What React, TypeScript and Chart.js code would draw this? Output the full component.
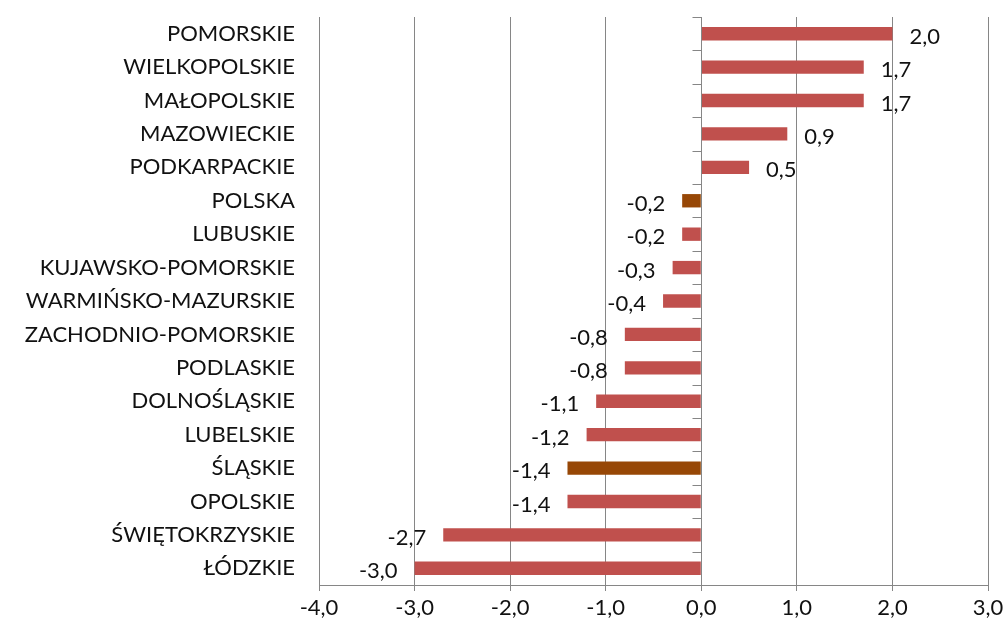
import React, { useEffect, useRef } from "react";
import { Chart, registerables } from "chart.js";

Chart.register(...registerables);

const categories = [
  "POMORSKIE",
  "WIELKOPOLSKIE",
  "MAŁOPOLSKIE",
  "MAZOWIECKIE",
  "PODKARPACKIE",
  "POLSKA",
  "LUBUSKIE",
  "KUJAWSKO-POMORSKIE",
  "WARMIŃSKO-MAZURSKIE",
  "ZACHODNIO-POMORSKIE",
  "PODLASKIE",
  "DOLNOŚLĄSKIE",
  "LUBELSKIE",
  "ŚLĄSKIE",
  "OPOLSKIE",
  "ŚWIĘTOKRZYSKIE",
  "ŁÓDZKIE",
];

const values = [2.0, 1.7, 1.7, 0.9, 0.5, -0.2, -0.2, -0.3, -0.4, -0.8, -0.8, -1.1, -1.2, -1.4, -1.4, -2.7, -3.0];

const highlighted = ["POLSKA", "ŚLĄSKIE"];

const xMin = -4;
const xMax = 3;

const RED = "#C0504D";
const BROWN = "#974706";
const FONT = "Lato, 'Open Sans', sans-serif";

const fmt = (v: number) => v.toFixed(1).replace(".", ",");

const valueLabels = {
  id: "valueLabels",
  afterDatasetsDraw(chart: any) {
    const ctx = chart.ctx;
    const meta = chart.getDatasetMeta(0);
    ctx.save();
    ctx.font = `22px ${FONT}`;
    ctx.fillStyle = "#111";
    ctx.textBaseline = "middle";
    meta.data.forEach((bar: any, i: number) => {
      const v = values[i];
      const txt = fmt(v);
      if (v >= 0) {
        ctx.textAlign = "left";
        ctx.fillText(txt, bar.x + 17, bar.y + 3);
      } else {
        ctx.textAlign = "right";
        ctx.fillText(txt, bar.x - 17, bar.y + 3);
      }
    });
    ctx.restore();
  },
};

const zeroAxisTicks = {
  id: "zeroAxisTicks",
  afterDatasetsDraw(chart: any) {
    const ctx = chart.ctx;
    const xs = chart.scales.x;
    const area = chart.chartArea;
    const x0 = Math.round(xs.getPixelForValue(0)) + 0.5;
    const n = categories.length;
    const h = (area.bottom - area.top) / n;
    ctx.save();
    ctx.strokeStyle = "#868686";
    ctx.lineWidth = 1;
    ctx.beginPath();
    ctx.moveTo(x0, area.top);
    ctx.lineTo(x0, area.bottom);
    for (let i = 0; i <= n; i++) {
      const y = Math.round(area.top + i * h) + 0.5;
      ctx.moveTo(x0 - 9, y);
      ctx.lineTo(x0, y);
    }
    ctx.stroke();
    ctx.restore();
  },
};

export default function App() {
  const ref = useRef<HTMLCanvasElement>(null);

  useEffect(() => {
    if (!ref.current) return;
    const chart = new Chart(ref.current, {
      type: "bar",
      data: {
        labels: categories,
        datasets: [
          {
            data: values,
            backgroundColor: categories.map((c) => (highlighted.includes(c) ? BROWN : RED)),
            barPercentage: 0.4,
            categoryPercentage: 1,
          },
        ],
      },
      options: {
        indexAxis: "y",
        responsive: false,
        animation: false,
        layout: { padding: { top: 17, right: 19, left: 0, bottom: 0 } },
        plugins: {
          legend: { display: false },
          tooltip: { enabled: false },
        },
        scales: {
          x: {
            min: xMin,
            max: xMax,
            ticks: {
              stepSize: 1,
              callback: (v: any) => fmt(Number(v)),
              color: "#111",
              font: { family: FONT, size: 22 },
              padding: 4,
              maxRotation: 0,
            },
            grid: {
              color: "#868686",
              tickLength: 6,
              tickColor: "#868686",
            },
            border: { color: "#868686" },
            afterFit: (s: any) => {
              s.height = 46;
              s.paddingLeft = 0;
              s.paddingRight = 0;
            },
          },
          y: {
            ticks: {
              color: "#111",
              font: { family: FONT, size: 22 },
              padding: 16,
              autoSkip: false,
            },
            grid: { display: false },
            border: { display: false },
            afterFit: (s: any) => {
              s.width = 319;
              s.paddingTop = 0;
              s.paddingBottom = 0;
            },
          },
        },
      },
      plugins: [valueLabels, zeroAxisTicks],
    });
    return () => chart.destroy();
  }, []);

  return (
    <div style={{ position: "fixed", left: 0, top: 0, width: 1007, height: 631, background: "#fff" }}>
      <canvas ref={ref} width={1007} height={631} />
    </div>
  );
}
